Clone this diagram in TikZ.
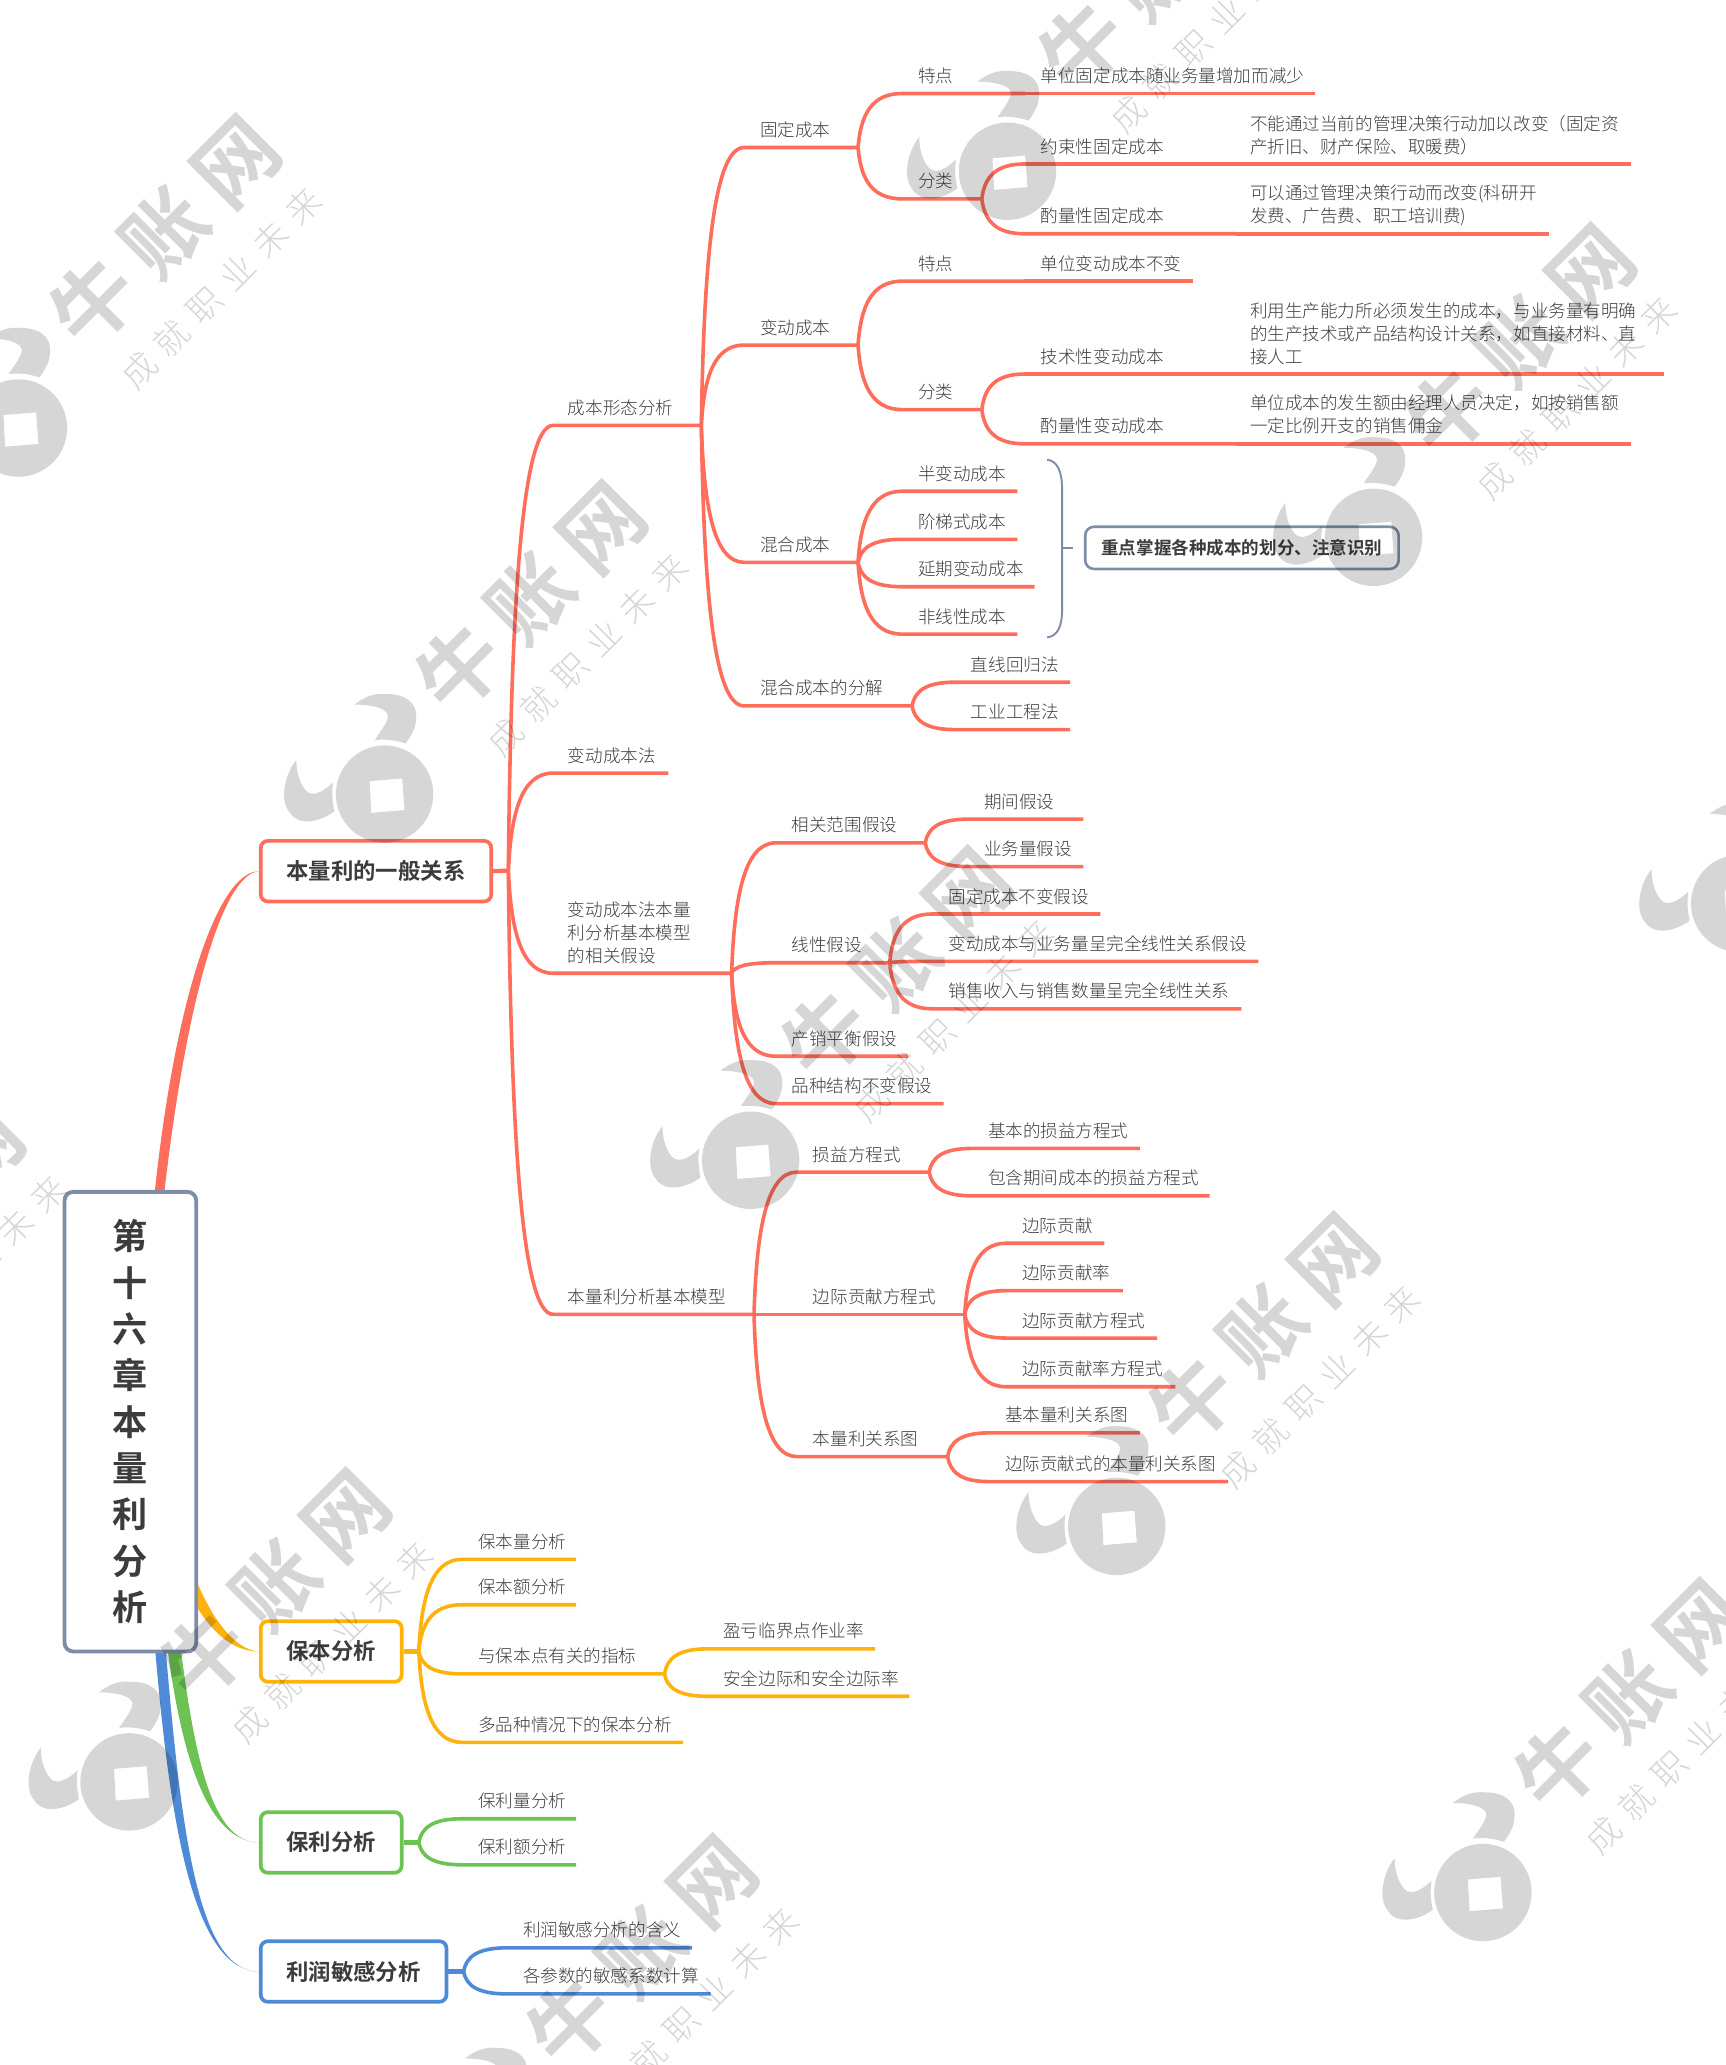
\documentclass[tikz,border=0pt]{standalone}
\usepackage{fontspec}
\usetikzlibrary{calc,backgrounds}
\setmainfont{Noto Sans CJK SC}[UprightFont=* Light,BoldFont=* Bold]
\definecolor{cred}{HTML}{FF6D5C}
\definecolor{corange}{HTML}{FFB20C}
\definecolor{cgreen}{HTML}{6CC354}
\definecolor{cblue}{HTML}{4F8AD8}
\definecolor{cslate}{HTML}{7E8DA8}
\definecolor{ctext}{HTML}{3C3C3C}
\colorlet{cur}{cred}
\tikzset{
 topic/.style={anchor=south west,inner xsep=0pt,inner ysep=2.1pt,text=ctext,font=\fontsize{10}{13.1}\selectfont},
 branchline/.style={draw=cur,line width=2.05pt},
 mainbox/.style={draw=#1,fill=white,line width=2.1pt,rounded corners=4pt,text=ctext,font=\bfseries\fontsize{12.75}{15}\selectfont,minimum height=34.5pt,inner sep=0pt},
 rootbox/.style={draw=cslate,fill=white,line width=2.2pt,rounded corners=5pt,text=ctext,font=\bfseries\fontsize{20}{26.4}\selectfont,align=center,minimum width=75pt,minimum height=261.75pt,inner sep=0pt},
 notebox/.style={draw=cslate,fill=white,line width=1.5pt,rounded corners=5pt,text=ctext,font=\bfseries\fontsize{10}{12}\selectfont,minimum width=178.5pt,minimum height=24pt,inner sep=0pt},
 wmbig/.style={black,opacity=.16,rotate=45,inner sep=0pt,font=\bfseries\fontsize{47}{50}\selectfont},
 wmsmall/.style={black,opacity=.16,rotate=45,inner sep=0pt,font=\fontsize{19.5}{22}\selectfont},
}
\newcommand{\tpnode}[6]{%
 \pgfmathsetlengthmacro\tpw{(#3-#2)*0.75}%
 \pgfmathsetlengthmacro\tpl{(#5-#2)*0.75}%
 \node[topic] (#1) at (#2,#4) {\hbox to \tpw{\hskip\tpl\begin{tabular}[b]{@{}l@{}}#6\end{tabular}\hss}};}
\newcommand{\cvconn}[2]{\draw[branchline] let \p1=(#1),\p2=(#2.south west),\n1={\x2-\x1},\n2={\y2-\y1} in (\p1) .. controls ({\x1+0.06*\n1},{\y1+0.6*\n2}) and ({\x1+0.3*\n1},{\y2}) .. (\p2) -- (#2.south east);}
\newcommand{\stconn}[2]{\draw[branchline] (#1) -- (#2.south west) -- (#2.south east);}
% parent anchor, name, x0, x1, y, text x, text
\newcommand{\kid}[7]{\tpnode{#2}{#3}{#4}{#5}{#6}{#7}\cvconn{#1}{#2}}
\newcommand{\nxt}[7]{\tpnode{#2}{#3}{#4}{#5}{#6}{#7}\stconn{#1}{#2}}
\newcommand{\wmark}[3]{%
 \begin{scope}[shift={(#2,#3)}]
 \fill[black,opacity=.16,even odd rule] (0,0) circle [radius=37] (-11.4,-9.9) -- (13.4,-11.9) -- (15.2,12.1) -- (-10.1,14.2) -- cycle;
 \fill[black,opacity=.16] (-67,-26) .. controls (-76,-15) and (-80,5) .. (-72,14) .. controls (-66,24) and (-50,22) .. (-38,13) .. controls (-40,5) and (-40,-3) .. (-39,-9) .. controls (-46,-2) and (-55,3) .. (-60,-3) .. controls (-65,-9) and (-67,-18) .. (-67,-26) -- cycle;
 \fill[black,opacity=.16] (-23,-68) .. controls (-15,-74) and (-8,-77) .. (2,-76) .. controls (15,-76) and (25,-70) .. (24,-58) .. controls (24,-50) and (20,-44) .. (16,-38.5) .. controls (8,-41) and (0,-42) .. (-7.5,-41) .. controls (-3,-48) and (3,-55) .. (2.5,-60) .. controls (1,-66) and (-12,-68) .. (-23,-68) -- cycle;
 \node[wmbig] (wmb#1) at (111,-149) {牛\hspace{10pt}账\hspace{10pt}网};
 \node[wmsmall] (wms#1) at (154,-106) {成\hspace{7pt}就\hspace{7pt}职\hspace{7pt}业\hspace{7pt}未\hspace{7pt}来};
 \end{scope}}
\begin{document}
\begin{tikzpicture}[x=0.75pt,y=-0.75pt]
\useasboundingbox (0,0) rectangle (1310,1568);
% boxes
\node[rootbox] (root) at (99,1079.5) {第\\十\\六\\章\\本\\量\\利\\分\\析};
\node[mainbox=cred,minimum width=131.25pt] (n1) at (285.5,661.5) {本量利的一般关系};
\node[mainbox=corange,minimum width=80.25pt] (n2) at (251.5,1254) {保本分析};
\node[mainbox=cgreen,minimum width=80.25pt] (n3) at (251.5,1399) {保利分析};
\node[mainbox=cblue,minimum width=105.75pt] (n4) at (268.5,1497) {利润敏感分析};
% tapered main branches, behind the boxes
\begin{scope}[on background layer]
\fill[cblue] ([xshift=14pt,yshift=-128pt]root.center) .. controls (130,1400) and (150,1496) .. (n4.west) .. controls (152,1497) and (138,1400) .. ([xshift=20pt,yshift=-128pt]root.center) -- cycle;
\fill[cgreen] ([xshift=21pt,yshift=-128pt]root.center) .. controls (138,1335) and (158,1398) .. (n3.west) .. controls (161,1399) and (148,1335) .. ([xshift=28.5pt,yshift=-128pt]root.center) -- cycle;
\fill[corange] ([xshift=24pt,yshift=-68pt]root.center) .. controls (140,1215) and (165,1254) .. (n2.west) .. controls (170,1252) and (148,1205) .. ([xshift=30pt,yshift=-68pt]root.center) -- cycle;
\fill[cred] ([xshift=14pt]root.north) .. controls (133,760) and (165,662) .. (n1.west) .. controls (168,664) and (141,765) .. ([xshift=19.5pt]root.north) -- cycle;
\end{scope}
% red tree
\colorlet{cur}{cred}
\coordinate (f1) at (386,661);
\draw[branchline,line width=2.4pt] (n1.east) -- (f1);
\kid{f1}{a}{420}{532}{323}{431}{成本形态分析}
\kid{f1}{b}{420}{507}{587}{431}{变动成本法}
\kid{f1}{c}{420}{555}{739}{431}{变动成本法本量\\利分析基本模型\\的相关假设}
\kid{f1}{d}{420}{572}{998}{431}{本量利分析基本模型}
\kid{a.south east}{a1}{565}{651}{112}{577}{固定成本}
\kid{a1.south east}{a11}{685}{778}{71}{697}{特点}
\nxt{a11.south east}{a111}{778}{998}{71}{790}{单位固定成本随业务量增加而减少}
\kid{a1.south east}{a12}{685}{745}{151}{697}{分类}
\kid{a12.south east}{a121}{778}{938}{124.5}{790}{约束性固定成本}
\nxt{a121.south east}{a1211}{938}{1238}{124.5}{949}{不能通过当前的管理决策行动加以改变（固定资\\产折旧、财产保险、取暖费）}
\kid{a12.south east}{a122}{778}{938}{177.5}{790}{酌量性固定成本}
\nxt{a122.south east}{a1221}{938}{1176}{177.5}{949}{可以通过管理决策行动而改变(科研开\\发费、广告费、职工培训费)}
\kid{a.south east}{a2}{565}{651}{262}{577}{变动成本}
\kid{a2.south east}{a21}{685}{778}{213.5}{697}{特点}
\nxt{a21.south east}{a211}{778}{905}{213.5}{790}{单位变动成本不变}
\kid{a2.south east}{a22}{685}{745}{311}{697}{分类}
\kid{a22.south east}{a221}{778}{938}{284}{790}{技术性变动成本}
\nxt{a221.south east}{a2211}{938}{1263}{284}{949}{利用生产能力所必须发生的成本，与业务量有明确\\的生产技术或产品结构设计关系，如直接材料、直\\接人工}
\kid{a22.south east}{a222}{778}{938}{337}{790}{酌量性变动成本}
\nxt{a222.south east}{a2221}{938}{1238}{337}{949}{单位成本的发生额由经理人员决定，如按销售额\\一定比例开支的销售佣金}
\kid{a.south east}{a3}{565}{651}{427}{577}{混合成本}
\kid{a3.south east}{a31}{685}{772}{373}{697}{半变动成本}
\kid{a3.south east}{a32}{685}{772}{409.5}{697}{阶梯式成本}
\kid{a3.south east}{a33}{685}{785}{445.5}{697}{延期变动成本}
\kid{a3.south east}{a34}{685}{772}{481.5}{697}{非线性成本}
\kid{a.south east}{a4}{565}{692}{536}{577}{混合成本的分解}
\kid{a4.south east}{a41}{725}{812}{518}{737}{直线回归法}
\kid{a4.south east}{a42}{725}{812}{554}{737}{工业工程法}
% bracket and note
\coordinate (bt) at (795,349);
\coordinate (bb) at (795,484);
\coordinate (bm) at (806.5,416);
\node[notebox] (note) at (943,416) {重点掌握各种成本的划分、注意识别};
\coordinate (bk) at (815,416);
\draw[cslate,line width=1.1pt] (bt) .. controls (803,350) and (806.5,358) .. (806.5,372) -- (bm) -- (806.5,462) .. controls (806.5,476) and (803,483) .. (bb);
\draw[cslate,line width=1.1pt] (bm) -- (bk);
% assumptions
\kid{c.south east}{c1}{589}{702}{640}{601}{相关范围假设}
\kid{c1.south east}{c11}{735}{822}{622}{747}{期间假设}
\kid{c1.south east}{c12}{735}{822}{658}{747}{业务量假设}
\kid{c.south east}{c2}{589}{675}{731}{601}{线性假设}
\kid{c2.south east}{c21}{708}{835}{694}{720}{固定成本不变假设}
\kid{c2.south east}{c22}{708}{955}{730}{720}{变动成本与业务量呈完全线性关系假设}
\kid{c2.south east}{c23}{708}{942}{766}{720}{销售收入与销售数量呈完全线性关系}
\kid{c.south east}{c3}{589}{689}{802}{601}{产销平衡假设}
\kid{c.south east}{c4}{589}{716}{838}{601}{品种结构不变假设}
% model
\kid{d.south east}{d1}{605}{705}{890}{617}{损益方程式}
\kid{d1.south east}{d11}{738}{865}{872}{750}{基本的损益方程式}
\kid{d1.south east}{d12}{738}{918}{908}{750}{包含期间成本的损益方程式}
\kid{d.south east}{d2}{605}{732}{998}{617}{边际贡献方程式}
\kid{d2.south east}{d21}{764}{838}{944}{776}{边际贡献}
\kid{d2.south east}{d22}{764}{852}{980}{776}{边际贡献率}
\kid{d2.south east}{d23}{764}{878}{1016}{776}{边际贡献方程式}
\kid{d2.south east}{d24}{764}{892}{1053}{776}{边际贡献率方程式}
\kid{d.south east}{d3}{605}{719}{1106}{617}{本量利关系图}
\kid{d3.south east}{d31}{751}{865}{1088}{763}{基本量利关系图}
\kid{d3.south east}{d32}{751}{932}{1125}{763}{边际贡献式的本量利关系图}
% orange tree
\colorlet{cur}{corange}
\coordinate (f2) at (318,1254);
\draw[branchline,line width=2.4pt] (n2.east) -- (f2);
\kid{f2}{e1}{351}{437}{1184}{363}{保本量分析}
\kid{f2}{e2}{351}{437}{1218.5}{363}{保本额分析}
\kid{f2}{e3}{351}{504}{1271}{363}{与保本点有关的指标}
\kid{f2}{e4}{351}{518}{1323}{363}{多品种情况下的保本分析}
\kid{e3.south east}{e31}{537}{664}{1252}{549}{盈亏临界点作业率}
\kid{e3.south east}{e32}{537}{690}{1288}{549}{安全边际和安全边际率}
% green tree
\colorlet{cur}{cgreen}
\coordinate (f3) at (318,1399);
\draw[branchline,line width=2.4pt] (n3.east) -- (f3);
\kid{f3}{g1}{351}{437}{1381}{363}{保利量分析}
\kid{f3}{g2}{351}{437}{1416}{363}{保利额分析}
% blue tree
\colorlet{cur}{cblue}
\coordinate (f4) at (352,1497);
\draw[branchline,line width=2.4pt] (n4.east) -- (f4);
\kid{f4}{h1}{385}{525}{1479}{397}{利润敏感分析的含义}
\kid{f4}{h2}{385}{539}{1514}{397}{各参数的敏感系数计算}
% watermarks
\wmark{1}{14}{325}
\wmark{2}{292}{603}
\wmark{3}{570}{881}
\wmark{4}{848}{1159}
\wmark{5}{1126}{1437}
\wmark{6}{-180}{1075}
\wmark{7}{98}{1353}
\wmark{8}{376}{1631}
\wmark{9}{765}{130}
\wmark{10}{1043}{408}
\wmark{11}{1321}{686}
\end{tikzpicture}
\end{document}
